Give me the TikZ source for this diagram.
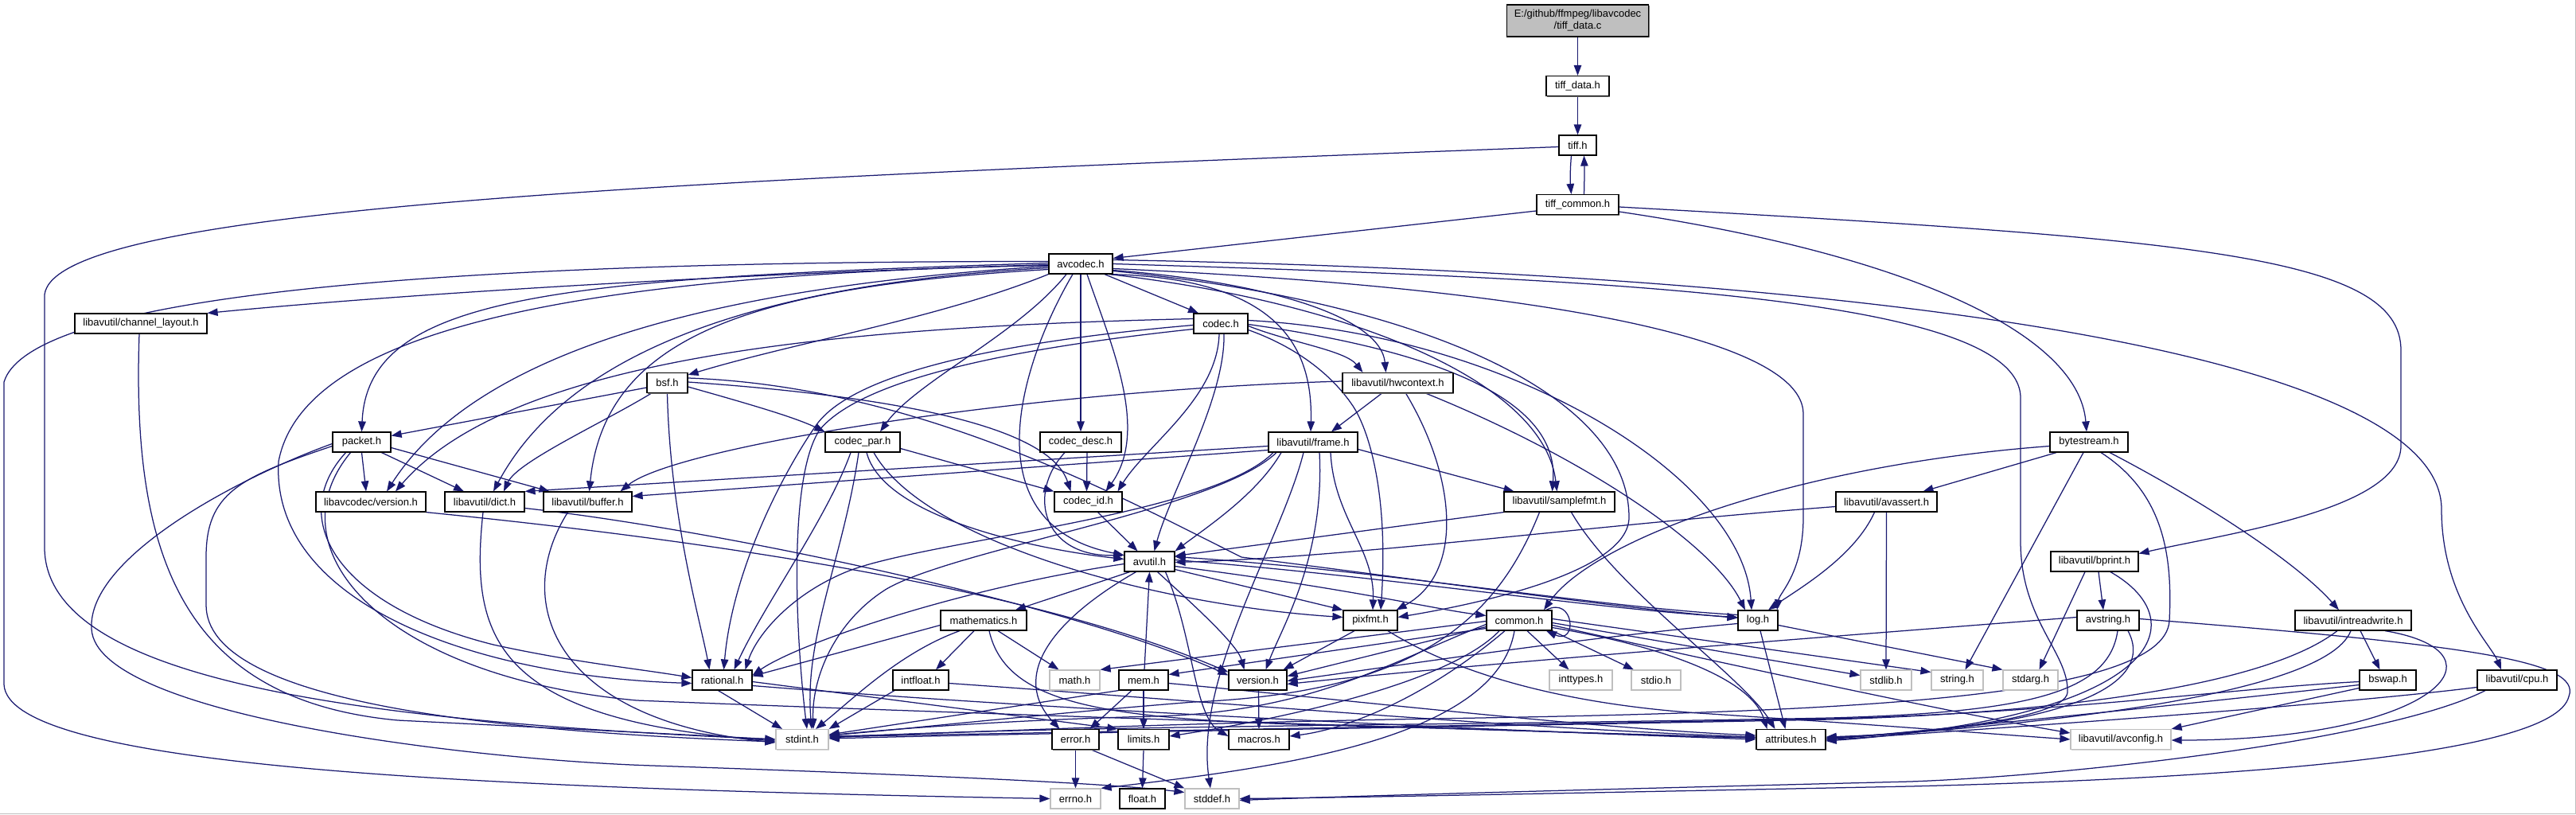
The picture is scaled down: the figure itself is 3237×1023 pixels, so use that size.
\documentclass[tikz,border=0pt]{standalone}
\usepackage{fontspec}
\setmainfont{Liberation Sans}
\usetikzlibrary{arrows.meta,shadows}
\definecolor{edgec}{HTML}{191970}
\definecolor{gbord}{HTML}{BFBFBF}
\newcommand\fsz{\fontsize{13pt}{15pt}\selectfont}
\newcommand\mknode[6][nb]{\node[#1,minimum width=#5pt] (#2) at (#3,#4) {#6};}
\pgfdeclarelayer{back}
\pgfdeclarelayer{edges}
\pgfsetlayers{back,edges,main}
\begin{document}
\begin{tikzpicture}[x=1pt,y=-1pt,
 nb/.style={draw=black,line width=1.2pt,fill=white,inner sep=0pt,minimum height=25pt,font=\fsz,
   drop shadow={shadow xshift=1.2pt,shadow yshift=-1.2pt,fill=black!55,opacity=1}},
 ng/.style={draw=gbord,line width=1.2pt,fill=white,inner sep=0pt,minimum height=25pt,font=\fsz,
   drop shadow={shadow xshift=1.2pt,shadow yshift=-1.2pt,fill=gbord!60,opacity=1}},
 nroot/.style={nb,fill=gbord,minimum height=40pt,align=center},
 edg/.style={draw=edgec,line width=1.25pt,-{Triangle[length=13pt,width=9.5pt]}},
]
\useasboundingbox (0,0) rectangle (3237,1023);
\begin{pgfonlayer}{back}
\fill[white] (0,0) rectangle (3237,1023);
\draw[gbord,line width=1pt] (0,1022.5) -- (3236.5,1022.5) -- (3236.5,0);
\end{pgfonlayer}

% ---------------- nodes ----------------
\mknode[nroot]{root}{1982.5}{26}{178}{E:/github/ffmpeg/libavcodec\\/tiff\_data.c}
\mknode{tiffdata}{1982.5}{108}{79}{tiff\_data.h}
\mknode{tiff}{1982.5}{182.5}{47}{tiff.h}
\mknode{tiffcommon}{1982.5}{257}{103}{tiff\_common.h}
\mknode{avcodec}{1358}{331.5}{80}{avcodec.h}
\mknode{chlayout}{177}{406.5}{166}{libavutil/channel\_layout.h}
\mknode{codec}{1534}{406.5}{68}{codec.h}
\mknode{bsf}{838.5}{481}{51}{bsf.h}
\mknode{hwcontext}{1756.5}{481}{139}{libavutil/hwcontext.h}
\mknode{packet}{454.5}{555.5}{73}{packet.h}
\mknode{codecpar}{1084}{555.5}{94}{codec\_par.h}
\mknode{codecdesc}{1358}{555.5}{102}{codec\_desc.h}
\mknode{frame}{1650}{555.5}{112}{libavutil/frame.h}
\mknode{bytestream}{2625}{555.5}{98}{bytestream.h}
\mknode{lavcversion}{466}{630.5}{138}{libavcodec/version.h}
\mknode{dict}{609}{630.5}{100}{libavutil/dict.h}
\mknode{buffer}{738.5}{630.5}{111}{libavutil/buffer.h}
\mknode{codecid}{1367.5}{630.5}{85}{codec\_id.h}
\mknode{samplefmt}{1959.5}{630.5}{139}{libavutil/samplefmt.h}
\mknode{avassert}{2370.5}{630.5}{127}{libavutil/avassert.h}
\mknode{avutil}{1444.5}{705.5}{63}{avutil.h}
\mknode{bprint}{2632}{705.5}{110}{libavutil/bprint.h}
\mknode{mathematics}{1236}{779.5}{108}{mathematics.h}
\mknode{pixfmt}{1722}{779.5}{68}{pixfmt.h}
\mknode{common}{1909}{779.5}{82}{common.h}
\mknode{log}{2209}{779.5}{50}{log.h}
\mknode{avstring}{2649}{779.5}{78}{avstring.h}
\mknode{intreadwrite}{2957}{779.5}{146}{libavutil/intreadwrite.h}
\mknode{rational}{907.5}{854.5}{75}{rational.h}
\mknode{intfloat}{1157}{854.5}{70}{intfloat.h}
\mknode[ng]{math}{1350.5}{854.5}{63}{math.h}
\mknode{mem}{1437}{854.5}{62}{mem.h}
\mknode{version}{1580.5}{854.5}{73}{version.h}
\mknode[ng]{inttypes}{1986.5}{854.5}{79}{inttypes.h}
\mknode[ng]{stdio}{2081}{854.5}{62}{stdio.h}
\mknode[ng]{stdlib}{2370}{854.5}{64}{stdlib.h}
\mknode[ng]{string}{2459.5}{854.5}{65}{string.h}
\mknode[ng]{stdarg}{2551.5}{854.5}{69}{stdarg.h}
\mknode{bswap}{3000.5}{854.5}{71}{bswap.h}
\mknode{cpu}{3163}{854.5}{100}{libavutil/cpu.h}
\mknode[ng]{stdint}{1008}{929}{66}{stdint.h}
\mknode{error}{1351.5}{929}{59}{error.h}
\mknode{limits}{1437}{929}{64}{limits.h}
\mknode{macros}{1582}{929}{76}{macros.h}
\mknode{attributes}{2250.5}{929}{87}{attributes.h}
\mknode[ng]{avconfig}{2665}{929}{126}{libavutil/avconfig.h}
\mknode[ng]{errno}{1351.5}{1003.5}{63}{errno.h}
\mknode{float}{1435.5}{1003.5}{57}{float.h}
\mknode[ng]{stddef}{1523}{1003.5}{68}{stddef.h}

% ---------------- edges ----------------
\begin{pgfonlayer}{edges}
% top chain
\draw[edg] (root.south) -- (tiffdata.north);
\draw[edg] (tiffdata.south) -- (tiff.north);
\draw[edg] ([xshift=-8pt]tiff.south) .. controls (1973,212) and (1973,228) .. ([xshift=-8pt]tiffcommon.north);
\draw[edg] ([xshift=8pt]tiffcommon.north) .. controls (1991,228) and (1991,212) .. ([xshift=8pt]tiff.south);
\draw[edg] ([yshift=-2pt]tiff.west) .. controls (800,228) and (70,262) .. (56,370) -- (56,690) .. controls (60,850) and (420,905) .. (stdint.west);
\draw[edg] ([yshift=-8pt]tiffcommon.west) -- ([yshift=7pt]avcodec.east);
\draw[edg] ([yshift=-9pt]tiffcommon.east) .. controls (2400,320) and (2612,420) .. ([xshift=-3pt]bytestream.north);
\draw[edg] ([yshift=-3pt]tiffcommon.east) .. controls (2750,300) and (3017,320) .. (3017,440) -- (3017,560) .. controls (3017,640) and (2800,670) .. ([yshift=10pt]bprint.east);

% avcodec.h
\draw[edg] ([xshift=30pt]avcodec.south) -- ([xshift=-28pt]codec.north);
\draw[edg] (avcodec.south) -- (codecdesc.north);
\draw[edg] ([xshift=8pt]avcodec.south) .. controls (1395,430) and (1445,540) .. ([xshift=22pt]codecid.north);
\draw[edg] ([xshift=-18pt]avcodec.south) .. controls (1280,420) and (1150,480) .. ([xshift=22pt]codecpar.north);
\draw[edg] (avcodec.south west) .. controls (1180,400) and (1000,430) .. ([yshift=10pt]bsf.east);
\draw[edg] ([xshift=-10pt]avcodec.south) .. controls (1280,460) and (1220,660) .. ([yshift=8pt]avutil.west);
\draw[edg] ([yshift=1pt]avcodec.west) .. controls (700,350) and (462,370) .. (packet.north);
\draw[edg] ([yshift=-3pt]avcodec.west) .. controls (900,360) and (600,440) .. ([xshift=20pt]lavcversion.north);
\draw[edg] ([yshift=-5pt]avcodec.west) .. controls (980,355) and (720,430) .. ([xshift=11pt]dict.north);
\draw[edg] ([yshift=-7pt]avcodec.west) .. controls (950,360) and (760,420) .. ([xshift=2pt]buffer.north);
\draw[edg] ([yshift=-1pt]avcodec.west) .. controls (900,345) and (500,370) .. (chlayout.north east);
\draw[edg] ([yshift=3pt]avcodec.west) .. controls (600,328) and (40,365) .. (5,480) -- (5,860) .. controls (10,965) and (600,990) .. (errno.west);
\draw[edg] ([yshift=-2pt]avcodec.west) .. controls (700,345) and (380,420) .. (350,580) .. controls (340,760) and (600,850) .. ([yshift=-4pt]rational.west);
\draw[edg] (avcodec.east) .. controls (2000,350) and (2539,370) .. (2539,500) -- (2539,680) .. controls (2539,780) and (2600,820) .. (2598,870) .. controls (2595,905) and (2400,922) .. ([yshift=2pt]attributes.east);
\draw[edg] ([yshift=5pt]avcodec.east) .. controls (2400,345) and (3068,450) .. (3068,640) .. controls (3068,750) and (3130,810) .. ([xshift=-20pt]cpu.north);
\draw[edg] ([yshift=-6pt]avcodec.east) .. controls (1900,360) and (2266,420) .. (2266,520) -- (2266,650) .. controls (2266,720) and (2236,745) .. ([xshift=24pt]log.north);
\draw[edg] ([yshift=-9pt]avcodec.east) .. controls (1800,380) and (2047,500) .. (2047,650) .. controls (2047,720) and (1850,760) .. ([yshift=4pt]pixfmt.east);
\draw[edg] ([xshift=36pt]avcodec.south) .. controls (1700,380) and (1940,480) .. ([xshift=-3pt]samplefmt.north);
\draw[edg] ([xshift=38pt]avcodec.south) .. controls (1600,350) and (1650,430) .. ([xshift=-3pt]frame.north);
\draw[edg] ([yshift=-8pt]avcodec.east) .. controls (1600,355) and (1735,400) .. ([xshift=-15pt]hwcontext.north);

% codec.h
\draw[edg] ([yshift=-3pt]codec.east) .. controls (1620,430) and (1690,440) .. ([xshift=-44pt]hwcontext.north);
\draw[edg] ([xshift=-2pt]codec.south) .. controls (1530,500) and (1440,560) .. ([xshift=37pt]codecid.north);
\draw[edg] ([xshift=4pt]codec.south) .. controls (1540,500) and (1470,620) .. ([xshift=6pt]avutil.north);
\draw[edg] ([yshift=6pt]codec.west) .. controls (1100,410) and (650,440) .. ([xshift=31pt]lavcversion.north);
\draw[edg] ([yshift=-2pt]codec.west) .. controls (1250,430) and (1070,470) .. (1025,535) .. controls (980,600) and (920,720) .. ([xshift=2pt]rational.north);
\draw[edg] ([yshift=-7pt]codec.west) .. controls (1250,440) and (1080,480) .. (1030,540) .. controls (990,600) and (1000,800) .. ([xshift=6pt]stdint.north);
\draw[edg] ([yshift=-8pt]codec.east) .. controls (1640,440) and (1680,480) .. (1700,510) .. controls (1720,540) and (1745,620) .. ([xshift=13pt]pixfmt.north);
\draw[edg] ([yshift=4pt]codec.east) .. controls (1900,420) and (2190,600) .. ([xshift=-8pt]log.north);
\draw[edg] ([yshift=-1pt]codec.east) .. controls (1800,440) and (1960,500) .. ([xshift=-9pt]samplefmt.north);

% bsf.h
\draw[edg] ([yshift=-6pt]bsf.west) -- ([yshift=8pt]packet.east);
\draw[edg] ([xshift=-20pt]bsf.south) .. controls (760,530) and (650,580) .. ([xshift=24pt]dict.north);
\draw[edg] (bsf.south) .. controls (842,650) and (880,780) .. ([xshift=-16pt]rational.north);
\draw[edg] ([yshift=-5pt]bsf.east) .. controls (950,510) and (1000,525) .. (codecpar.north west);
\draw[edg] ([yshift=1pt]bsf.east) .. controls (1150,500) and (1320,540) .. ([xshift=-22pt]codecid.north);
\draw[edg] ([yshift=6pt]bsf.east) .. controls (1150,485) and (1400,620) .. (1560,700) .. controls (1800,730) and (2000,760) .. ([yshift=3pt]log.west);

% hwcontext.h
\draw[edg] ([xshift=-20pt]hwcontext.south) -- ([xshift=23pt]frame.north);
\draw[edg] ([yshift=2pt]hwcontext.west) .. controls (1300,490) and (850,560) .. ([xshift=41pt]buffer.north);
\draw[edg] ([xshift=35pt]hwcontext.south) .. controls (1980,570) and (2150,680) .. ([xshift=-16pt]log.north);
\draw[edg] ([xshift=10pt]hwcontext.south) .. controls (1830,600) and (1840,720) .. ([xshift=-2pt]pixfmt.north east);

% packet.h
\draw[edg] (packet.south) -- ([xshift=-6pt]lavcversion.north);
\draw[edg] ([xshift=25pt]packet.south) -- ([xshift=-26pt]dict.north);
\draw[edg] ([yshift=-7pt]packet.east) -- ([xshift=-48pt]buffer.north);
\draw[edg] ([yshift=-2pt]packet.west) .. controls (300,600) and (110,700) .. (115,790) .. controls (120,900) and (600,955) .. (820,962) .. controls (1200,975) and (1400,985) .. ([yshift=8pt]stddef.west);
\draw[edg] ([yshift=-5pt]packet.west) .. controls (300,600) and (259,620) .. (259,700) -- (259,760) .. controls (259,880) and (600,918) .. ([yshift=-3pt]stdint.west);
\draw[edg] ([xshift=-20pt]packet.south) .. controls (360,650) and (420,760) .. (620,810) .. controls (720,832) and (800,840) .. ([yshift=3pt]rational.west);
\draw[edg] ([xshift=-14pt]packet.south) .. controls (340,690) and (480,850) .. (800,880) .. controls (1300,900) and (1900,918) .. ([yshift=2pt]attributes.west);

% codec_par.h
\draw[edg] ([yshift=-8pt]codecpar.east) -- (codecid.north west);
\draw[edg] ([xshift=5pt]codecpar.south) .. controls (1110,650) and (1300,690) .. ([yshift=3pt]avutil.west);
\draw[edg] ([xshift=14pt]codecpar.south) .. controls (1160,680) and (1450,760) .. ([yshift=4pt]pixfmt.west);
\draw[edg] ([xshift=-15pt]codecpar.south) .. controls (1040,650) and (960,760) .. ([xshift=15pt]rational.north);
\draw[edg] ([xshift=-5pt]codecpar.south) .. controls (1060,700) and (1010,800) .. ([xshift=12pt]stdint.north);

% codec_desc.h
\draw[edg] ([xshift=8pt]codecdesc.south) -- ([xshift=-2pt]codecid.north);
\draw[edg] ([xshift=-20pt]codecdesc.south) .. controls (1290,620) and (1310,700) .. ([yshift=8pt]avutil.west);

% frame.h
\draw[edg] ([yshift=-9pt]frame.east) -- ([xshift=-57pt]samplefmt.north);
\draw[edg] ([yshift=-10pt]frame.west) -- ([yshift=7pt]buffer.east);
\draw[edg] ([yshift=-5pt]frame.west) -- (dict.north east);
\draw[edg] ([xshift=-40pt]frame.south) .. controls (1580,620) and (1520,660) .. (avutil.north east);
\draw[edg] ([xshift=-50pt]frame.south) .. controls (1520,650) and (1150,680) .. (1060,720) .. controls (990,750) and (950,800) .. ([xshift=29pt]rational.north);
\draw[edg] ([xshift=-46pt]frame.south) .. controls (1530,640) and (1200,690) .. (1114,740) .. controls (1050,780) and (1020,850) .. ([xshift=14pt]stdint.north);
\draw[edg] ([xshift=22pt]frame.south) .. controls (1676,650) and (1728,690) .. ([xshift=3pt]pixfmt.north);
\draw[edg] ([xshift=8pt]frame.south) .. controls (1665,700) and (1610,790) .. ([xshift=10pt]version.north);
\draw[edg] ([xshift=-12pt]frame.south) .. controls (1610,680) and (1500,850) .. ([xshift=-2pt]stddef.north);

% bytestream.h
\draw[edg] ([xshift=-41pt]bytestream.south) -- ([xshift=46pt]avassert.north);
\draw[edg] ([yshift=-5pt]bytestream.west) .. controls (2250,585) and (2000,680) .. ([xshift=31pt]common.north);
\draw[edg] ([xshift=-7pt]bytestream.south) -- ([xshift=10pt]string.north);
\draw[edg] ([xshift=15pt]bytestream.south) .. controls (2720,620) and (2730,700) .. (2726,780) .. controls (2720,880) and (2300,895) .. (1800,903) .. controls (1400,910) and (1200,922) .. ([yshift=4pt]stdint.east);
\draw[edg] ([xshift=26pt]bytestream.south) .. controls (2750,620) and (2880,700) .. ([xshift=-18pt]intreadwrite.north);

% libavcodec/version.h, dict.h, buffer.h, channel_layout.h, codec_id.h
\draw[edg] (lavcversion.south east) .. controls (900,680) and (1300,740) .. ([yshift=10pt]version.west);
\draw[edg] ([yshift=-8pt]dict.east) .. controls (900,665) and (1350,760) .. ([yshift=6pt]version.west);
\draw[edg] ([xshift=-2pt]dict.south) .. controls (590,800) and (620,905) .. ([yshift=-2pt]stdint.west);
\draw[edg] ([xshift=-25pt]buffer.south) .. controls (640,760) and (700,905) .. ([yshift=-4pt]stdint.west);
\draw[edg] ([xshift=-2pt]chlayout.south) .. controls (165,700) and (230,880) .. (500,905) .. controls (700,915) and (900,925) .. (stdint.west);
\draw[edg] ([xshift=12pt]codecid.south) -- ([xshift=-15pt]avutil.north);

% samplefmt.h
\draw[edg] (samplefmt.south west) -- ([yshift=7pt]avutil.east);
\draw[edg] ([xshift=-25pt]samplefmt.south) .. controls (1880,780) and (1780,870) .. (1500,882) .. controls (1300,898) and (1150,915) .. ([yshift=5pt]stdint.east);
\draw[edg] ([xshift=15pt]samplefmt.south) .. controls (2030,740) and (2190,850) .. ([xshift=-20pt]attributes.north);

% avassert.h
\draw[edg] ([yshift=-6pt]avassert.west) .. controls (2000,660) and (1700,700) .. ([yshift=-1pt]avutil.east);
\draw[edg] ([xshift=-15pt]avassert.south) .. controls (2330,700) and (2260,740) .. ([xshift=13pt]log.north);
\draw[edg] (avassert.south) -- (stdlib.north);

% bprint.h
\draw[edg] ([xshift=5pt]bprint.south) -- ([xshift=-6pt]avstring.north);
\draw[edg] ([xshift=-12pt]bprint.south) -- ([xshift=11pt]stdarg.north);
\draw[edg] ([xshift=20pt]bprint.south) .. controls (2760,780) and (2720,900) .. ([yshift=-2pt]attributes.east);

% avutil.h
\draw[edg] ([xshift=-25pt]avutil.south) -- ([xshift=40pt]mathematics.north);
\draw[edg] ([yshift=-3pt]avutil.west) .. controls (1200,740) and (1000,810) .. ([yshift=6pt]rational.east);
\draw[edg] ([xshift=-17pt]avutil.south) .. controls (1320,780) and (1270,850) .. ([xshift=-20pt]error.north);
\draw[edg] ([xshift=10pt]avutil.south) .. controls (1500,760) and (1555,810) .. ([xshift=-17pt]version.north);
\draw[edg] ([xshift=20pt]avutil.south) .. controls (1500,800) and (1500,900) .. ([yshift=4pt]macros.west);
\draw[edg] ([yshift=2pt]avutil.east) .. controls (1750,725) and (2000,765) .. ([yshift=4pt]log.west);
\draw[edg] ([yshift=-6pt]avutil.east) .. controls (1700,740) and (1800,765) .. ([yshift=6pt]common.west);
\draw[edg] ([yshift=-10pt]avutil.east) -- (pixfmt.north west);

% mem.h
\draw[edg] ([xshift=1pt]mem.north) -- (avutil.south);
\draw[edg] ([xshift=-15pt]mem.south) -- ([xshift=18pt]error.north);
\draw[edg] (mem.south) -- (limits.north);
\draw[edg] (mem.south west) -- ([yshift=6pt]stdint.east);
\draw[edg] ([yshift=-4pt]mem.east) .. controls (1700,880) and (2000,915) .. ([yshift=5pt]attributes.west);

% common.h
\draw[edg] ([xshift=34pt]common.north) .. controls +(35,-18) and +(40,18) .. ([xshift=34pt]common.south);
\draw[edg] ([xshift=10pt]common.south) -- ([xshift=-15pt]inttypes.north);
\draw[edg] (common.south east) -- ([xshift=-28pt]stdio.north);
\draw[edg] ([yshift=-3pt]common.east) -- ([yshift=6pt]stdlib.west);
\draw[edg] ([yshift=2pt]common.east) -- ([yshift=10pt]string.west);
\draw[edg] ([xshift=-6pt]common.south) .. controls (1880,930) and (1600,965) .. (errno.north east);
\draw[edg] ([xshift=-25pt]common.south) .. controls (1820,860) and (1600,905) .. ([yshift=4pt]limits.east);
\draw[edg] ([xshift=-18pt]common.south) .. controls (1800,870) and (1700,915) .. ([yshift=4pt]macros.east);
\draw[edg] ([yshift=-1pt]common.west) -- (math.north east);
\draw[edg] ([yshift=-5pt]common.west) .. controls (1750,830) and (1650,895) .. (1450,900) .. controls (1250,905) and (1100,918) .. ([yshift=5pt]stdint.east);
\draw[edg] ([yshift=-8pt]common.west) -- ([yshift=5pt]version.east);
\draw[edg] ([yshift=-10pt]common.west) -- ([yshift=7pt]mem.east);
\draw[edg] ([yshift=-9pt]common.east) .. controls (2080,810) and (2200,850) .. ([xshift=-30pt]attributes.north);
\draw[edg] ([yshift=-6pt]common.east) .. controls (2150,830) and (2450,895) .. ([yshift=8pt]avconfig.west);

% log.h
\draw[edg] ([yshift=-6pt]log.east) -- (stdarg.north west);
\draw[edg] ([xshift=3pt]log.south) -- ([xshift=-7pt]attributes.north);
\draw[edg] ([yshift=7pt]log.west) .. controls (2000,762) and (1750,718) .. ([yshift=6pt]avutil.east);
\draw[edg] ([yshift=-4pt]log.west) .. controls (2000,800) and (1800,830) .. ([yshift=-1pt]version.east);

% pixfmt.h
\draw[edg] ([xshift=-20pt]pixfmt.south) -- ([xshift=-5pt]version.north east);
\draw[edg] ([xshift=22pt]pixfmt.south) .. controls (1820,840) and (1950,885) .. (2150,897) .. controls (2350,910) and (2500,922) .. (avconfig.west);

% avstring.h
\draw[edg] ([yshift=4pt]avstring.west) .. controls (2300,800) and (1900,830) .. ([yshift=-5pt]version.east);
\draw[edg] ([xshift=12pt]avstring.south) .. controls (2650,870) and (2550,895) .. (2300,902) .. controls (1800,912) and (1300,912) .. ([yshift=2pt]stdint.east);
\draw[edg] ([xshift=25pt]avstring.south) .. controls (2710,860) and (2600,915) .. ([yshift=3pt]attributes.east);
\draw[edg] ([yshift=2pt]avstring.east) .. controls (3100,810) and (3245,830) .. (3228,875) .. controls (3210,950) and (2800,978) .. (2400,988) .. controls (2000,996) and (1700,1002) .. (stddef.east);

% intreadwrite.h
\draw[edg] ([xshift=9pt]intreadwrite.south) -- ([xshift=-10pt]bswap.north);
\draw[edg] ([xshift=-20pt]intreadwrite.south) .. controls (2850,860) and (2600,895) .. (2300,904) .. controls (1800,914) and (1300,921) .. ([yshift=1pt]stdint.east);
\draw[edg] ([xshift=-3pt]intreadwrite.south) .. controls (2920,880) and (2500,915) .. ([yshift=1pt]attributes.east);
\draw[edg] ([xshift=40pt]intreadwrite.south) .. controls (3160,820) and (3060,930) .. ([yshift=-1pt]avconfig.east);

% bswap.h
\draw[edg] ([yshift=-10pt]bswap.west) -- (avconfig.north east);
\draw[edg] ([yshift=-2pt]bswap.west) .. controls (2800,865) and (2600,895) .. (2300,903) .. controls (1800,913) and (1300,920) .. ([yshift=3pt]stdint.east);
\draw[edg] ([yshift=-6pt]bswap.west) .. controls (2700,890) and (2400,920) .. (attributes.east);

% cpu.h
\draw[edg] ([yshift=-9pt]cpu.west) .. controls (2900,890) and (2400,922) .. ([yshift=-1pt]attributes.east);
\draw[edg] ([xshift=-40pt]cpu.south) .. controls (3000,930) and (2600,975) .. (2400,982) .. controls (2000,992) and (1700,1000) .. ([yshift=-2pt]stddef.east);

% error.h, rational.h, mathematics.h, intfloat.h, limits.h, version.h
\draw[edg] (error.south) -- (errno.north);
\draw[edg] ([xshift=20pt]error.south) -- (stddef.north west);
\draw[edg] ([xshift=-5pt]rational.south) -- ([xshift=-25pt]stdint.north);
\draw[edg] ([yshift=-2pt]rational.east) -- (limits.north west);
\draw[edg] ([yshift=-7pt]rational.east) .. controls (1300,890) and (1800,915) .. (attributes.west);
\draw[edg] ([yshift=-6pt]mathematics.west) -- ([yshift=5pt]rational.east);
\draw[edg] ([xshift=-30pt]mathematics.south) .. controls (1130,820) and (1070,880) .. ([xshift=17pt]stdint.north);
\draw[edg] ([xshift=-12pt]mathematics.south) -- ([xshift=19pt]intfloat.north);
\draw[edg] ([xshift=18pt]mathematics.south) -- ([xshift=-20pt]math.north);
\draw[edg] ([xshift=7pt]mathematics.south) .. controls (1265,890) and (1400,905) .. (1700,912) .. controls (1900,917) and (2100,925) .. ([yshift=2pt]attributes.west);
\draw[edg] ([xshift=-33pt]intfloat.south) -- (stdint.north east);
\draw[edg] ([yshift=-4pt]intfloat.east) .. controls (1500,880) and (1900,915) .. ([yshift=3pt]attributes.west);
\draw[edg] (limits.south) -- (float.north);
\draw[edg] ([xshift=1pt]version.south) -- (macros.north);
\end{pgfonlayer}
\end{tikzpicture}
\end{document}
